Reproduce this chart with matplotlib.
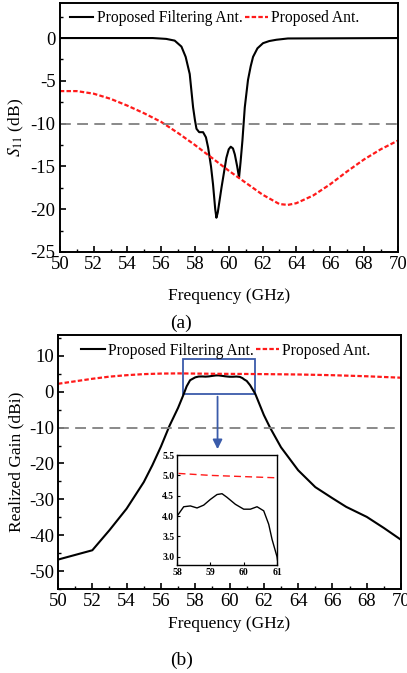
import matplotlib
matplotlib.use('Agg')
import matplotlib.pyplot as plt
from matplotlib.ticker import MultipleLocator, FormatStrFormatter
from matplotlib.patches import Rectangle

plt.rcParams['font.family'] = ['Liberation Serif', 'DejaVu Serif']
plt.rcParams['mathtext.fontset'] = 'stix'
plt.rcParams['axes.unicode_minus'] = False

# (a) S11 data
f_filt = [50, 52, 54, 55.5, 56.3, 56.8, 57.2, 57.45, 57.69, 57.89, 58.0, 58.09, 58.25, 58.48,
          58.65, 58.78, 58.95, 59.07, 59.2, 59.27, 59.35, 59.57, 59.86, 60.0, 60.12, 60.25, 60.36,
          60.5, 60.61, 60.7, 60.81, 60.95, 61.14, 61.3, 61.44, 61.7, 62.03, 62.4, 62.82, 63.5, 70]
s11_filt = [0, 0, 0, 0, -0.1, -0.3, -1.0, -2.2, -4.2, -8.1, -9.6, -10.6, -11.0, -11.0,
            -11.6, -12.8, -15.0, -17.1, -20.0, -21.0, -20.4, -17.5, -14.0, -13.0, -12.7, -12.9, -13.6,
            -15.0, -16.3, -14.5, -12.0, -8.1, -4.9, -3.3, -2.2, -1.2, -0.6, -0.35, -0.2, -0.05, 0]
f_ant = [50, 51, 52, 53, 54, 55, 56, 57, 58, 59, 60, 61, 62, 63, 63.5, 64, 65, 66, 67, 68, 69, 70]
s11_ant = [-6.2, -6.2, -6.5, -7.1, -7.9, -8.8, -9.8, -11.1, -12.5, -14, -15.5, -16.9, -18.3,
           -19.4, -19.5, -19.3, -18.4, -17.1, -15.6, -14.2, -13.0, -12.0]

# (b) realized gain data
fg_ant = [50, 51, 52, 53, 54, 55, 56, 57, 58, 59, 60, 61, 62, 64, 66, 68, 70]
gain_ant = [2.2, 2.9, 3.6, 4.2, 4.6, 4.9, 5.05, 5.1, 5.05, 5.0, 4.97, 4.94, 4.9, 4.8, 4.6, 4.3, 3.9]
fg_filt = [50, 52, 53, 54, 55, 55.5, 56, 56.5, 57, 57.3, 57.5, 57.7, 58, 58.2, 58.4, 58.6, 58.8,
           59, 59.2, 59.35, 59.5, 59.75, 60, 60.2, 60.4, 60.6, 60.75, 60.85, 61, 61.2, 61.5,
           62, 62.36, 63, 64, 65, 66, 66.8, 68, 69, 70]
gain_filt = [-46.8, -44.2, -38.6, -32.6, -25.2, -20.5, -15.3, -9.5, -4.5, -1, 1.5, 3.2, 4.0, 4.23, 4.25, 4.2, 4.27,
             4.41, 4.53, 4.55, 4.46, 4.29, 4.17, 4.17, 4.23, 4.13, 3.8, 3.43, 3.0, 1.8, -0.6,
             -6.5, -10, -15.5, -21.9, -26.6, -29.7, -32.1, -34.9, -38.0, -41.3]

blue = '#3A5BAA'
red = '#FF1A1A'
grey = '#808080'

fig = plt.figure(figsize=(4.07, 6.73), dpi=100)


def style(ax):
    ax.tick_params(which='both', direction='in', top=False, right=False, labelsize=13.5, pad=3)
    ax.tick_params(which='major', length=4, width=1.2)
    ax.tick_params(which='minor', length=2.5, width=1.0)
    for s in ax.spines.values():
        s.set_linewidth(1.4)


# ---- (a) ----
ax1 = fig.add_axes([0.147, 0.6256, 0.830, 0.370])
ax1.plot(f_filt, s11_filt, color='black', lw=1.5, label='Proposed Filtering Ant.')
ax1.plot(f_ant, s11_ant, color=red, lw=1.6, dashes=(2, 1), label='Proposed Ant.')
ax1.axhline(-10, color=grey, lw=1.3, dashes=(6, 3.5))
ax1.set_xlim(50, 70)
ax1.set_ylim(-25, 4.1)
ax1.xaxis.set_major_locator(MultipleLocator(2))
ax1.xaxis.set_minor_locator(MultipleLocator(1))
ax1.yaxis.set_major_locator(MultipleLocator(5))
ax1.yaxis.set_minor_locator(MultipleLocator(2.5))
style(ax1)
ax1.set_xlabel('Frequency (GHz)', fontsize=12.5, labelpad=11)
ax1.set_ylabel('$S_{11}$ (dB)', fontsize=12.5, labelpad=3)
ax1.legend(loc='upper left', bbox_to_anchor=(0.012, 0.995), ncol=2, frameon=False,
           fontsize=11.2, handlelength=1.5, handletextpad=0.2, columnspacing=0.15,
           borderaxespad=0)
fig.text(0.445, 0.519, '(a)', fontsize=14, ha='center', va='center')

# ---- (b) ----
ax2 = fig.add_axes([0.1425, 0.1248, 0.843, 0.3774])
ax2.plot(fg_filt, gain_filt, color='black', lw=1.5, label='Proposed Filtering Ant.')
ax2.plot(fg_ant, gain_ant, color=red, lw=1.6, dashes=(2, 1), label='Proposed Ant.')
ax2.axhline(-10, color=grey, lw=1.3, dashes=(6, 3.5))
ax2.set_xlim(50, 70)
ax2.set_ylim(-55, 15.8)
ax2.xaxis.set_major_locator(MultipleLocator(2))
ax2.xaxis.set_minor_locator(MultipleLocator(1))
ax2.yaxis.set_major_locator(MultipleLocator(10))
ax2.yaxis.set_minor_locator(MultipleLocator(5))
style(ax2)
ax2.set_xlabel('Frequency (GHz)', fontsize=12.5, labelpad=4)
ax2.set_ylabel('Realized Gain (dBi)', fontsize=12.5, labelpad=3)
ax2.legend(loc='upper left', bbox_to_anchor=(0.05, 0.995), ncol=2, frameon=False,
           fontsize=11.2, handlelength=1.5, handletextpad=0.2, columnspacing=0.15,
           borderaxespad=0)
ax2.add_patch(Rectangle((57.3, -0.6), 4.2, 9.8, fill=False, edgecolor=blue, lw=1.3))
ax2.annotate('', xy=(59.3, -16.8), xytext=(59.3, -0.6),
             arrowprops=dict(arrowstyle='-|>', color=blue, lw=1.3, mutation_scale=14))
fig.text(0.445, 0.019, '(b)', fontsize=14, ha='center', va='center')

# inset
axi = fig.add_axes([0.435, 0.1605, 0.2457, 0.1634])
axi.plot(fg_filt, gain_filt, color='black', lw=1.0)
axi.plot(fg_ant, gain_ant, color=red, lw=1.0, dashes=(5, 3))
axi.set_xlim(58, 61)
axi.set_ylim(2.8, 5.5)
axi.xaxis.set_major_locator(MultipleLocator(1))
axi.yaxis.set_major_locator(MultipleLocator(0.5))
axi.yaxis.set_major_formatter(FormatStrFormatter('%.1f'))
axi.tick_params(direction='in', length=2.5, width=0.8, labelsize=7, pad=2)
for lab in axi.get_xticklabels() + axi.get_yticklabels():
    lab.set_fontweight('bold')
for s in axi.spines.values():
    s.set_linewidth(1.0)

fig.savefig('out.png', dpi=100)
